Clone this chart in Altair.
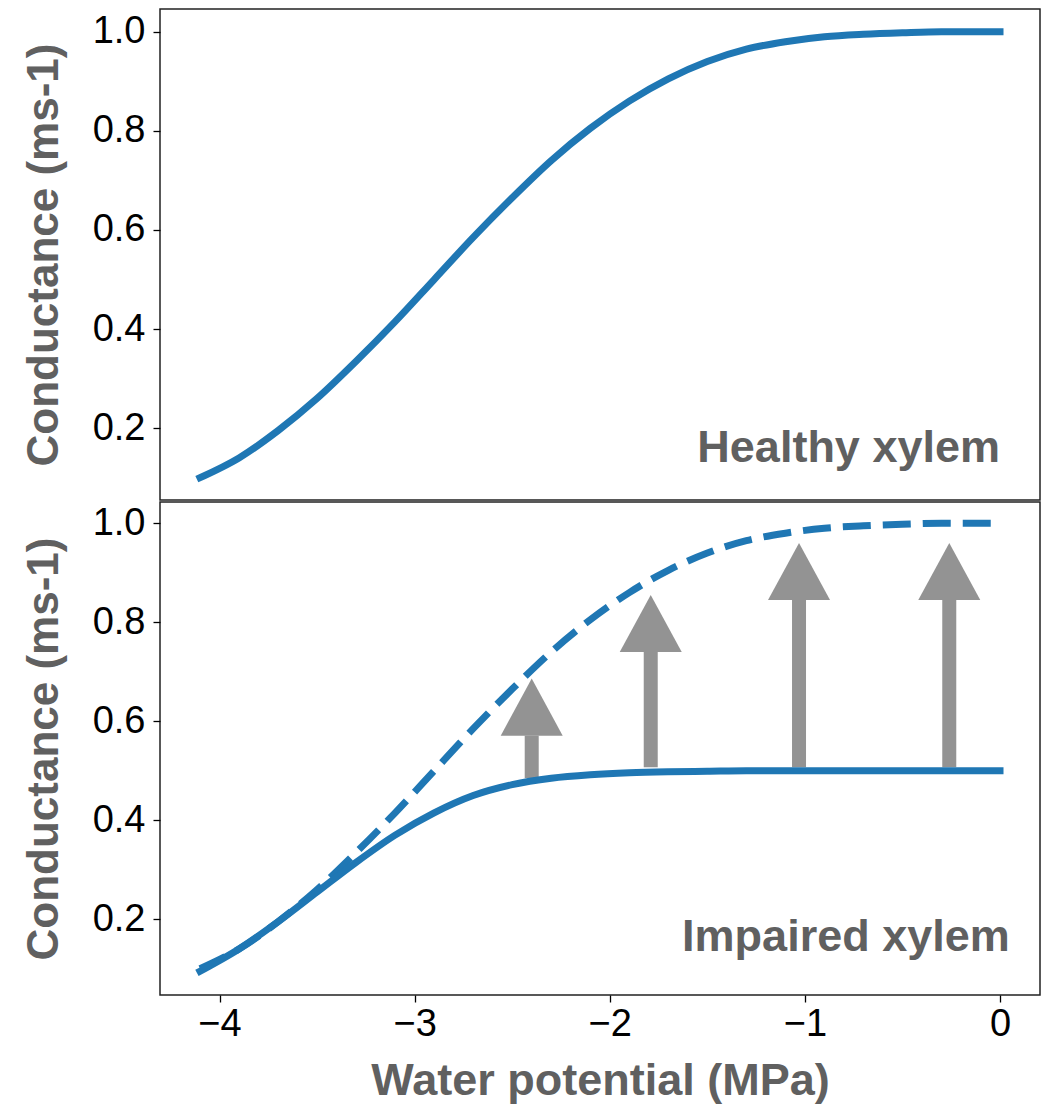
import altair as alt
import pandas as pd

# Water potential (MPa) sample positions
x_vals = [-4.1, -3.9, -3.7, -3.5, -3.3, -3.1, -2.9, -2.7, -2.5, -2.3, -2.1,
          -1.9, -1.7, -1.5, -1.3, -1.1, -0.9, -0.7, -0.5, -0.3, -0.1, 0.0]
# Healthy xylem conductance
healthy = [0.10, 0.14, 0.195, 0.26, 0.335, 0.415, 0.50, 0.585, 0.665, 0.74, 0.805,
           0.86, 0.905, 0.94, 0.965, 0.98, 0.99, 0.995, 0.998, 1.0, 1.0, 1.0]
# Impaired xylem conductance
impaired = [0.095, 0.14, 0.195, 0.255, 0.315, 0.37, 0.415, 0.45, 0.472, 0.485, 0.492,
            0.496, 0.498, 0.499, 0.5, 0.5, 0.5, 0.5, 0.5, 0.5, 0.5, 0.5]

# Arrows: x position, shaft start, head base
arrow_x = [-2.40, -1.79, -1.03, -0.26]
arrow_from = [0.485, 0.507, 0.507, 0.507]
arrow_to = [0.571, 0.740, 0.845, 0.845]

# Panel labels
label_text = ["Healthy xylem", "Impaired xylem"]
label_x = [0.0, 0.05]
label_y = [0.132, 0.135]

x_ticks = [-4, -3, -2, -1, 0]
y_ticks = [0.2, 0.4, 0.6, 0.8, 1.0]

BLUE = "#1f77b4"
GRAY = "#939393"
TXT = "#606060"
FONT = "Liberation Sans"

curves = pd.DataFrame({"x": x_vals, "healthy": healthy, "impaired": impaired})
arrows = pd.DataFrame({"x": arrow_x, "y0": arrow_from, "y1": arrow_to})
top_lab = pd.DataFrame({"x": [label_x[0]], "y": [label_y[0]], "t": [label_text[0]]})
bot_lab = pd.DataFrame({"x": [label_x[1]], "y": [label_y[1]], "t": [label_text[1]]})

W = 880

xscale = alt.Scale(domain=[-4.305, 0.205], nice=False, zero=False)
yscale_top = alt.Scale(domain=[0.055, 1.046], nice=False, zero=False)
yscale_bot = alt.Scale(domain=[0.047, 1.043], nice=False, zero=False)


def yaxis():
    return alt.Axis(values=y_ticks, format=".1f", title="Conductance (ms-1)",
                    grid=False, domain=False, tickSize=7, tickColor="black",
                    tickWidth=1.3, labelFontSize=38, labelColor="black",
                    labelFont=FONT, labelPadding=8, titleFontSize=44,
                    titleFont=FONT, titleFontWeight="bold", titleColor=TXT,
                    titlePadding=26)


xaxis = alt.Axis(values=x_ticks, format="d", title="Water potential (MPa)",
                 grid=False, domain=False, tickSize=7, tickColor="black",
                 tickWidth=1.3, labelFontSize=38, labelColor="black",
                 labelFont=FONT, labelPadding=3, titleFontSize=45,
                 titleFont=FONT, titleFontWeight="bold", titleColor=TXT,
                 titlePadding=15)

# ---- top panel
top_line = alt.Chart(curves).mark_line(
    color=BLUE, strokeWidth=7, strokeCap="square", interpolate="monotone"
).encode(
    x=alt.X("x:Q", scale=xscale, axis=None),
    y=alt.Y("healthy:Q", scale=yscale_top, axis=yaxis()),
)
top_text = alt.Chart(top_lab).mark_text(
    align="right", baseline="alphabetic", fontSize=45, fontWeight="bold",
    font=FONT, color=TXT
).encode(
    x=alt.X("x:Q", scale=xscale, axis=None),
    y=alt.Y("y:Q", scale=yscale_top),
    text="t:N",
)
top = alt.layer(top_line, top_text).properties(width=W, height=491)

# ---- bottom panel
dashed = alt.Chart(curves).mark_line(
    color=BLUE, strokeWidth=7, strokeDash=[28, 12], strokeCap="butt",
    interpolate="monotone"
).encode(
    x=alt.X("x:Q", scale=xscale, axis=xaxis),
    y=alt.Y("healthy:Q", scale=yscale_bot, axis=yaxis()),
)
solid = alt.Chart(curves).mark_line(
    color=BLUE, strokeWidth=7, strokeCap="square", interpolate="monotone"
).encode(
    x=alt.X("x:Q", scale=xscale),
    y=alt.Y("impaired:Q", scale=yscale_bot),
)
shafts = alt.Chart(arrows).mark_rule(
    color=GRAY, strokeWidth=14, strokeCap="butt"
).encode(
    x=alt.X("x:Q", scale=xscale),
    y=alt.Y("y0:Q", scale=yscale_bot),
    y2="y1:Q",
)
heads = alt.Chart(arrows).mark_point(
    shape="M-1,0L1,0L0,-1.84Z", filled=True, fill=GRAY, color=GRAY,
    strokeWidth=0, opacity=1, size=3844
).encode(
    x=alt.X("x:Q", scale=xscale),
    y=alt.Y("y1:Q", scale=yscale_bot),
)
bot_text = alt.Chart(bot_lab).mark_text(
    align="right", baseline="alphabetic", fontSize=45, fontWeight="bold",
    font=FONT, color=TXT
).encode(
    x=alt.X("x:Q", scale=xscale),
    y=alt.Y("y:Q", scale=yscale_bot),
    text="t:N",
)
bottom = alt.layer(dashed, shafts, heads, solid, bot_text).properties(width=W, height=493)

chart = alt.vconcat(top, bottom, spacing=0).properties(
    padding={"left": 13, "top": 0, "right": 0, "bottom": 0}
).configure_view(
    stroke="#222222", strokeWidth=1.5
)

chart.save("out.html", embed_options={"renderer": "svg", "actions": False})
